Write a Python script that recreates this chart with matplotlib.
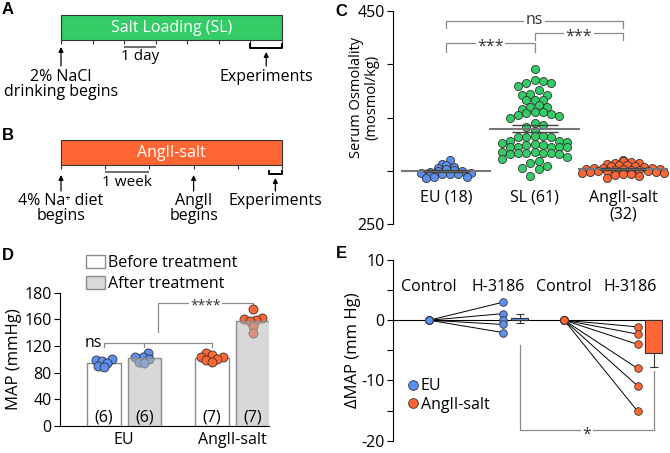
#!/usr/bin/env python3
"""Recreate the five-panel SL / AngII-salt figure (timelines, osmolality, MAP, dMAP)."""
import numpy as np
import matplotlib
matplotlib.use("Agg")
import matplotlib.pyplot as plt
from matplotlib.patches import Patch
from matplotlib.lines import Line2D

plt.rcParams["font.family"] = ["Open Sans", "DejaVu Sans"]
plt.rcParams["font.size"] = 11.5
plt.rcParams["axes.unicode_minus"] = False

BLUE = "#5b8ff0"
GREEN = "#33cc66"
ORANGE = "#ff6633"
EDGE = "#333333"
BRK = "#8a8a8a"

# ---------------- data ----------------
# A / B timelines
SL_DAYS = 7
ANG_WEEKS = 5
ANGII_START_WEEK = 3

# C: serum osmolality (mosmol/kg)
C_GROUPS = ["EU (18)", "SL (61)", "AngII-salt\n(32)"]
C_EU = [310.3, 306.3, 305.3, 303.4, 302.5, 301.6, 301.0, 300.0, 299.4, 298.8,
        298.1, 298.1, 297.2, 297.2, 297.2, 294.1, 294.1, 293.1]
C_SL = [395.6, 385.3, 384.0, 382.5, 382.5, 379.4, 375.6, 372.5, 371.3, 371.3,
        366.5, 366.0, 366.0, 361.3, 360.3, 359.7, 358.4, 355.3, 355.0, 354.4,
        353.4, 352.2, 351.3, 349.4, 344.4, 343.1, 341.3, 337.5, 332.2, 332.2,
        331.6, 331.6, 331.6, 328.4, 328.4, 326.9, 326.3, 325.0, 324.0, 324.0,
        322.5, 322.5, 322.5, 322.5, 321.9, 318.0, 317.5, 317.0, 317.0, 316.5,
        316.5, 316.0, 315.5, 313.0, 311.0, 309.0, 307.0, 304.4, 303.0, 302.0,
        295.3]
C_ANG = [310.5, 309.0, 308.0, 307.5, 307.0, 306.0, 305.5, 305.0, 304.5, 304.0,
         303.5, 303.0, 303.0, 302.5, 302.0, 302.0, 301.5, 301.0, 301.0, 300.5,
         300.0, 300.0, 299.5, 299.0, 298.5, 298.0, 297.5, 297.0, 296.5, 296.0,
         295.0, 293.0]
C_YTICKS = [250, 300, 350, 400, 450]
C_YTICKLABELS = ["250", "", "", "", "450"]

# D: MAP (mmHg)
D_GROUPS = ["EU", "AngII-salt"]
D_EU_BEFORE = [100, 99, 98, 95, 90, 88]
D_EU_AFTER = [110, 104, 103, 101, 96, 95]
D_ANG_BEFORE = [110, 106, 104, 103, 101, 99, 96]
D_ANG_AFTER = [175, 162, 160, 159, 158, 150, 140]
D_YTICKS = [0, 40, 80, 120, 160, 200]
D_YTICKLABELS = ["0", "40", "80", "120", "160", "180"]

# E: dMAP (mm Hg)
E_EU_H3186 = [3.0, 1.1, 0.0, -0.7, -2.05]
E_ANG_H3186 = [-1.1, -2.3, -4.0, -8.0, -10.9, -15.1]
E_BAR_MEAN = [0.3, -5.4]
E_BAR_SEM = [0.8, 2.35]
E_COND = ["Control", "H-3186", "Control", "H-3186"]

W, H = 670, 453
fig = plt.figure(figsize=(W / 100, H / 100), dpi=100)


def px_axes(x0, y0, x1, y1):
    return fig.add_axes([x0 / W, 1 - y1 / H, (x1 - x0) / W, (y1 - y0) / H])


def row_spread(ax, xc, vals, bin_px, gap_px):
    """GraphPad-like scatter: bin by value, spread each row symmetrically."""
    vals = np.asarray(vals, float)
    xy = ax.transData.transform(np.column_stack([np.full(len(vals), xc), vals]))
    rows = np.floor((xy[:, 1] - xy[:, 1].min()) / bin_px).astype(int)
    xs = xy[:, 0].copy()
    for r in np.unique(rows):
        idx = np.where(rows == r)[0]
        idx = idx[np.argsort(vals[idx])]
        idx = np.concatenate([idx[::2], idx[1::2][::-1]])
        xs[idx] += (np.arange(len(idx)) - (len(idx) - 1) / 2) * gap_px
    return ax.transData.inverted().transform(np.column_stack([xs, xy[:, 1]]))[:, 0]


def swarm_x(ax, xc, vals, diam):
    """Beeswarm: each point goes to the nearest-to-centre spot that does not
    overlap points already placed (distances in display pixels)."""
    vals = np.asarray(vals, float)
    xy = ax.transData.transform(np.column_stack([np.full(len(vals), xc), vals]))
    cx = xy[0, 0]
    placed = []
    out = np.empty(len(vals))
    for i in np.argsort(vals):
        py = xy[i, 1]
        cands = [cx]
        for qx, qy in placed:
            dy = abs(py - qy)
            if dy < diam:
                dx = np.sqrt(diam ** 2 - dy ** 2)
                cands += [qx - dx, qx + dx]
        cands.sort(key=lambda c: (abs(c - cx), c))
        for c in cands:
            if all((c - qx) ** 2 + (py - qy) ** 2 >= diam ** 2 - 1e-6 for qx, qy in placed):
                break
        placed.append((c, py))
        out[i] = c
    return ax.transData.inverted().transform(np.column_stack([out, xy[:, 1]]))[:, 0]


def bracket(ax, xs, ys, text, tx, ty, dy=-3, **kw):
    ax.plot(xs, ys, color=BRK, lw=0.9, zorder=1, solid_joinstyle="miter")
    ax.annotate(text, (tx, ty), xytext=(0, dy), textcoords="offset points",
                ha="center", va="center", color="#333", zorder=2,
                bbox=dict(fc="white", ec="none", pad=1), **kw)


def arrow(ax, x, y_tail, y_tip):
    ax.annotate("", xy=(x, y_tip), xytext=(x, y_tail),
                arrowprops=dict(arrowstyle="-|>", lw=0.9, color="black",
                                mutation_scale=7, shrinkA=0, shrinkB=0))


# ---------------- A ----------------
axA = px_axes(0, 0, 340, 115)
pxd = 221 / SL_DAYS
axA.set_xlim(-61 / pxd, 279 / pxd); axA.set_ylim(115, 0); axA.axis("off")
axA.barh(27.5, SL_DAYS, left=0, height=25, color=GREEN, edgecolor=EDGE, lw=0.8)
axA.text(SL_DAYS / 2, 28, "Salt Loading (SL)", color="white", ha="center", va="center")
axA.vlines(np.arange(SL_DAYS + 1), 40, 43.5, color=EDGE, lw=0.8)
axA.hlines(46.5, 2, 3, color="#555", lw=1.2)
axA.text(2.5, 57, "1 day", ha="center", va="center", fontsize=11)
axA.plot([SL_DAYS - 1, SL_DAYS - 1, SL_DAYS, SL_DAYS], [44, 47.5, 47.5, 44], color="black", lw=1.4)
arrow(axA, SL_DAYS - 0.5, 66, 52)
axA.text(SL_DAYS - 0.5, 77, "Experiments", ha="center", va="center")
arrow(axA, 0, 66, 47)
axA.text(0, 77, "2% NaCl", ha="center", va="center")
axA.text(0, 92, "drinking begins", ha="center", va="center")

# ---------------- B ----------------
axB = px_axes(0, 115, 340, 230)
pxw = 221 / ANG_WEEKS
axB.set_xlim(-61 / pxw, 279 / pxw); axB.set_ylim(115, 0); axB.axis("off")
axB.barh(37.5, ANG_WEEKS, left=0, height=25, color=ORANGE, edgecolor=EDGE, lw=0.8)
axB.text(ANG_WEEKS / 2, 38, "AngII-salt", color="white", ha="center", va="center")
axB.vlines(np.arange(ANG_WEEKS + 1), 50, 53.5, color=EDGE, lw=0.8)
axB.hlines(57.3, 1, 2, color="#555", lw=1.2)
axB.text(1.5, 68, "1 week", ha="center", va="center", fontsize=11)
axB.plot([ANG_WEEKS - 0.3, ANG_WEEKS - 0.3, ANG_WEEKS, ANG_WEEKS], [56, 58.5, 58.5, 56], color="black", lw=1.4)
arrow(axB, ANG_WEEKS - 0.15, 76, 63)
axB.text(ANG_WEEKS - 0.15, 86, "Experiments", ha="center", va="center")
arrow(axB, 0, 76, 60)
arrow(axB, ANGII_START_WEEK, 76, 60)
axB.text(0, 86, "4% Na\u207a diet", ha="center", va="center")
axB.text(0, 101, "begins", ha="center", va="center")
axB.text(ANGII_START_WEEK, 86, "AngII", ha="center", va="center")
axB.text(ANGII_START_WEEK, 101, "begins", ha="center", va="center")

# ---------------- C ----------------
axC = px_axes(393, 11, 670, 224)
axC.set_ylim(250, 450); axC.set_xlim(-0.6, 2.53)
for s in ("top", "right", "bottom"):
    axC.spines[s].set_visible(False)
axC.set_xticks([])
axC.set_yticks(C_YTICKS, C_YTICKLABELS)
axC.tick_params(axis="y", length=4, width=0.8, pad=2)
c_bins = [4.6, 8.0, 4.6]
for i, (vals, col) in enumerate(zip([C_EU, C_SL, C_ANG], [BLUE, GREEN, ORANGE])):
    v = np.asarray(vals)
    xs = row_spread(axC, i, v, bin_px=c_bins[i], gap_px=8.2)
    axC.scatter(xs, v, s=34, color=col, edgecolor=EDGE, lw=0.6, zorder=2)
    m, sem = v.mean(), v.std(ddof=1) / np.sqrt(len(v))
    axC.hlines(m, i - 0.51, i + 0.51, color="#777", lw=1.5, zorder=3)
    axC.hlines([m - sem, m + sem], i - 0.26, i + 0.26, color="#444", lw=1.0, zorder=3)
    axC.text(i, 282, C_GROUPS[i], ha="center", va="top", linespacing=1.05)
bracket(axC, [0, 0, 2, 2], [434, 440.6, 440.6, 434], "ns", 1, 440.6, dy=1)
bracket(axC, [0, 0, 1, 1], [411.6, 420, 420, 411.6], "***", 0.5, 420)
bracket(axC, [1, 1, 2, 2], [422.8, 429.4, 429.4, 422.8], "***", 1.5, 429.4)
axC.text(-0.105, 0.596, "Serum Osmolality\n(mosmol/kg)", transform=axC.transAxes,
         rotation=90, ha="center", va="center", fontsize=10.5, linespacing=1.05)

# ---------------- D ----------------
axD = px_axes(60, 292.7, 269, 426)
axD.set_ylim(0, 200); axD.set_xlim(-1.07, 4.05)
for s in ("top", "right"):
    axD.spines[s].set_visible(False)
axD.set_yticks(D_YTICKS, D_YTICKLABELS)
axD.tick_params(axis="y", length=4, width=0.8, pad=2)
bar_x = [0, 1, 2.65, 3.65]
bw = 0.83
d_sets = [D_EU_BEFORE, D_EU_AFTER, D_ANG_BEFORE, D_ANG_AFTER]
d_cols = [BLUE, BLUE, ORANGE, ORANGE]
for k, (x, vals, col) in enumerate(zip(bar_x, d_sets, d_cols)):
    v = np.asarray(vals, float)
    after = k % 2 == 1
    if after:
        axD.bar(x, v.mean(), bw, color="#b8b8b8", alpha=0.55, lw=0, zorder=3)
        axD.bar(x, v.mean(), bw, fill=False, edgecolor="#8c8c8c", lw=1, zorder=3)
    else:
        axD.bar(x, v.mean(), bw, color="white", edgecolor="#8c8c8c", lw=1, zorder=1)
    xs = swarm_x(axD, x, v, diam=6.0)
    axD.scatter(xs, v, s=42, color=col, edgecolor=EDGE, lw=0.6, zorder=2)
    axD.text(x, 13.5, f"({len(v)})", ha="center", va="center", zorder=4)
axD.set_xticks([0.5, 3.15], D_GROUPS)
axD.tick_params(axis="x", length=0, pad=4)
axD.plot([0, 0, 2.65, 2.65], [119, 124, 124, 119], color=BRK, lw=0.9)
axD.plot([1, 1], [119, 124], color=BRK, lw=0.9)
axD.text(-0.05, 125, "ns", ha="right", va="center")
mid = (0 + 2.65) / 2
bracket(axD, [mid, mid, 3.65, 3.65], [141, 185, 185, 181], "****", (mid + 3.65) / 2, 185, dy=-2.5,
        fontsize=10)
axD.set_ylabel("MAP (mmHg)", fontsize=12, labelpad=2)
axD.legend([Patch(fc="white", ec="#8c8c8c"), Patch(fc="#d9d9d9", ec="#8c8c8c")],
           ["Before treatment", "After treatment"], loc="center left",
           bbox_to_anchor=(0.124, 1.142), frameon=False, borderpad=0, borderaxespad=0,
           handlelength=1.2, handleheight=0.9, handletextpad=0.2, labelspacing=0.3,
           fontsize=11.5)

# ---------------- E ----------------
axE = px_axes(393, 260, 663, 440.7)
axE.set_ylim(-20, 10); axE.set_xlim(-0.49, 3.16)
for s in ("top", "right", "bottom"):
    axE.spines[s].set_visible(False)
axE.set_xticks([])
axE.set_yticks([-20, -15, -10, -5, 0, 5, 10], ["-20", "", "-10", "", "0", "", "10"])
axE.tick_params(axis="y", length=4, width=0.8, pad=2)
axE.axhline(0, color="black", lw=0.8, zorder=0.5)
ctrl_x = [0, 1.824]
h_x = [1, 2.816]
barE_x = [1.226, 3.036]
for cx, hx, vals, col in zip(ctrl_x, h_x, [E_EU_H3186, E_ANG_H3186], [BLUE, ORANGE]):
    v = np.asarray(vals)
    for val in v:
        axE.plot([cx, hx], [0, val], color="black", lw=0.7, zorder=1)
    axE.scatter(np.full(len(v), cx), np.zeros(len(v)), s=30, color=col, edgecolor=EDGE, lw=0.6, zorder=3)
    axE.scatter(np.full(len(v), hx), v, s=30, color=col, edgecolor=EDGE, lw=0.6, zorder=3)
axE.errorbar(barE_x, E_BAR_MEAN, yerr=E_BAR_SEM, fmt="none", ecolor="#333", elinewidth=0.8,
             capsize=3, capthick=0.8, zorder=1.5)
axE.bar(barE_x, E_BAR_MEAN, 0.23, color=[BLUE, ORANGE], edgecolor="#333", lw=0.8, zorder=2)
for x, lab in zip([0, 0.93, 1.82, 2.71], E_COND):
    axE.text(x, 5.45, lab, ha="center", va="center")
bracket(axE, [barE_x[0], barE_x[0], barE_x[1], barE_x[1]], [-4.15, -18.3, -18.3, -8.5],
        "*", sum(barE_x) / 2, -18.3, dy=-3)
axE.set_ylabel("\u0394MAP (mm Hg)", fontsize=12, labelpad=0)
axE.legend([Line2D([], [], ls="none", marker="o", ms=7, mfc=BLUE, mec=EDGE, mew=0.6),
            Line2D([], [], ls="none", marker="o", ms=7, mfc=ORANGE, mec=EDGE, mew=0.6)],
           ["EU", "AngII-salt"], loc="center left", bbox_to_anchor=(0.058, 0.251),
           frameon=False, borderpad=0, borderaxespad=0, handlelength=0.5,
           handletextpad=0.25, labelspacing=0.15, fontsize=11.5)

# panel letters
for lab, x, y in [("A", 7.5, 10), ("B", 7.5, 136), ("C", 341, 11), ("D", 7.5, 256), ("E", 341, 253)]:
    fig.text(x / W, 1 - y / H, lab, ha="center", va="center", fontsize=12,
             fontweight="bold", family=["Liberation Sans", "DejaVu Sans"])

fig.savefig("out.png", dpi=100)
